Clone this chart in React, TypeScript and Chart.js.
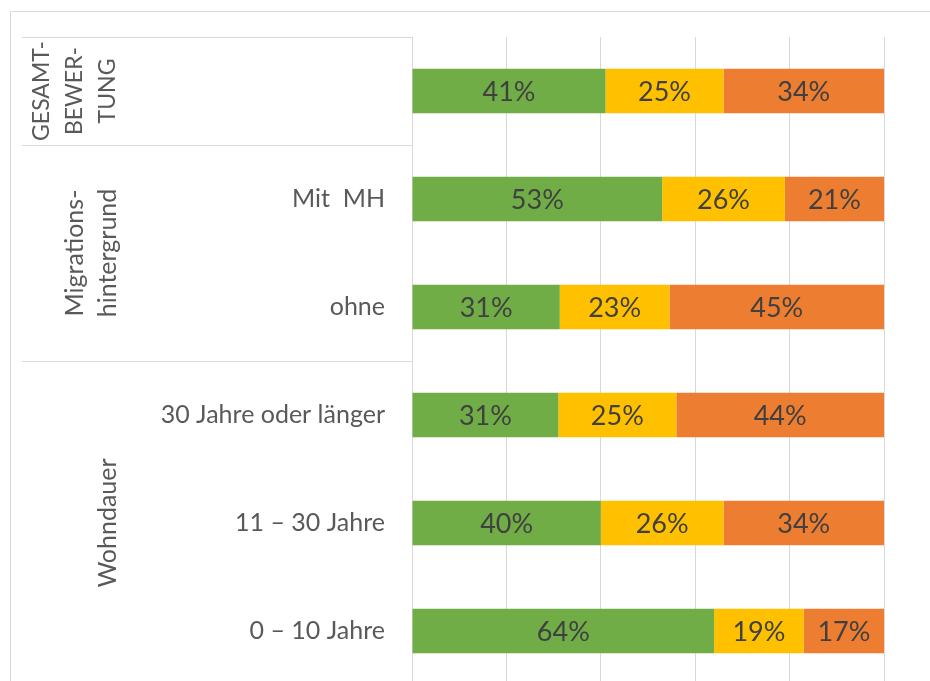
import React, { useEffect, useRef } from "react";
import { Chart, registerables } from "chart.js";

Chart.register(...registerables);

const categories = ["", "Mit  MH", "ohne", "30 Jahre oder länger", "11 – 30 Jahre", "0 – 10 Jahre"];
const positive = [41, 53, 31, 31, 40, 64];
const neutral = [25, 26, 23, 25, 26, 19];
const negative = [34, 21, 45, 44, 34, 17];
const seriesNames = ["positiv", "neutral", "negativ"];
const seriesColors = ["#70AD47", "#FFC000", "#ED7D31"];
const groupLabels = [["GESAMT-", "BEWER-", "TUNG"], ["Migrations-", "hintergrund"], ["Wohndauer"]];
const groupStart = [0, 1, 3];
const groupEnd = [0, 2, 5];
const xTicks = [0, 20, 40, 60, 80, 100];

const FONT = "Lato";
const LABEL_COLOR = "#595959";
const GRID = "#d9d9d9";
const groupFontSizes = [23, 25, 25];

export default function App() {
  const ref = useRef<HTMLCanvasElement | null>(null);

  useEffect(() => {
    const canvas = ref.current;
    if (!canvas) return;
    const raw = [positive, neutral, negative];
    const totals = categories.map((_, i) => positive[i] + neutral[i] + negative[i]);

    const decor = {
      id: "decor",
      beforeDraw(chart: any) {
        const ctx = chart.ctx;
        ctx.save();
        ctx.fillStyle = "#ffffff";
        ctx.fillRect(0, 0, chart.width, chart.height);
        ctx.strokeStyle = GRID;
        ctx.lineWidth = 1;
        ctx.strokeRect(10.5, 11.5, 1000, 1000);
        ctx.restore();
      },
      afterDraw(chart: any) {
        const ctx = chart.ctx;
        const y = chart.scales.y;
        const area = chart.chartArea;
        ctx.save();
        ctx.strokeStyle = GRID;
        ctx.lineWidth = 1;
        const lines = [area.top, ...groupEnd.map((e) => y.getPixelForValue(e + 0.5))];
        lines.forEach((ly: number) => {
          const yy = Math.round(ly) + 0.5;
          ctx.beginPath();
          ctx.moveTo(22, yy);
          ctx.lineTo(area.left, yy);
          ctx.stroke();
        });
        ctx.fillStyle = LABEL_COLOR;
        ctx.textBaseline = "middle";
        // category labels
        ctx.font = `25px ${FONT}`;
        ctx.textAlign = "right";
        categories.forEach((c, i) => {
          ctx.fillText(c, area.left - 27, y.getPixelForValue(i));
        });
        // group labels
        ctx.textAlign = "center";
        groupLabels.forEach((gl, g) => {
          ctx.font = `${groupFontSizes[g]}px ${FONT}`;
          const y0 = y.getPixelForValue(groupStart[g] - 0.5);
          const y1 = y.getPixelForValue(groupEnd[g] + 0.5);
          const cy = (y0 + y1) / 2;
          const n = gl.length;
          gl.forEach((t, i) => {
            const x = 108 - (n - 1 - i) * 33;
            ctx.save();
            ctx.translate(x, cy);
            ctx.rotate(-Math.PI / 2);
            ctx.fillText(t, 0, 0);
            ctx.restore();
          });
        });
        ctx.restore();
      },
      afterDatasetsDraw(chart: any) {
        const ctx = chart.ctx;
        ctx.save();
        ctx.fillStyle = "#404040";
        ctx.font = `27px ${FONT}`;
        ctx.textAlign = "center";
        ctx.textBaseline = "middle";
        raw.forEach((vals, d) => {
          const meta = chart.getDatasetMeta(d);
          meta.data.forEach((bar: any, i: number) => {
            const p = bar.getProps(["x", "base", "y"], true);
            ctx.fillText(`${vals[i]}%`, (p.x + p.base) / 2, p.y + 1);
          });
        });
        ctx.restore();
      },
    };

    const chart = new Chart(canvas, {
      type: "bar",
      data: {
        labels: categories,
        datasets: raw.map((vals, d) => ({
          label: seriesNames[d],
          data: vals.map((v, i) => (v / totals[i]) * 100),
          backgroundColor: seriesColors[d],
          borderWidth: 0,
          barPercentage: 0.41,
          categoryPercentage: 1,
        })),
      },
      options: {
        indexAxis: "y",
        responsive: false,
        animation: false,
        layout: { padding: { top: 37, right: 46, bottom: 15, left: 0 } },
        plugins: { legend: { display: false }, tooltip: { enabled: false } },
        scales: {
          x: {
            stacked: true,
            min: 0,
            max: 100,
            afterBuildTicks: (scale: any) => {
              scale.ticks = xTicks.map((v) => ({ value: v }));
            },
            afterFit: (scale: any) => {
              scale.height = 0;
            },
            ticks: { display: false },
            grid: { color: GRID, drawTicks: false, lineWidth: 1 },
            border: { display: false },
          },
          y: {
            stacked: true,
            afterFit: (scale: any) => {
              scale.width = 412;
            },
            grid: { display: false, drawTicks: false },
            border: { display: true, color: GRID },
            ticks: { display: false, padding: 0 },
          },
        },
      } as any,
      plugins: [decor],
    });
    return () => chart.destroy();
  }, []);

  return (
    <div
      style={{
        position: "fixed",
        left: 0,
        top: 0,
        width: 930,
        height: 681,
        overflow: "hidden",
        background: "#fff",
      }}
    >
      <canvas ref={ref} width={930} height={700} style={{ display: "block" }} />
    </div>
  );
}
